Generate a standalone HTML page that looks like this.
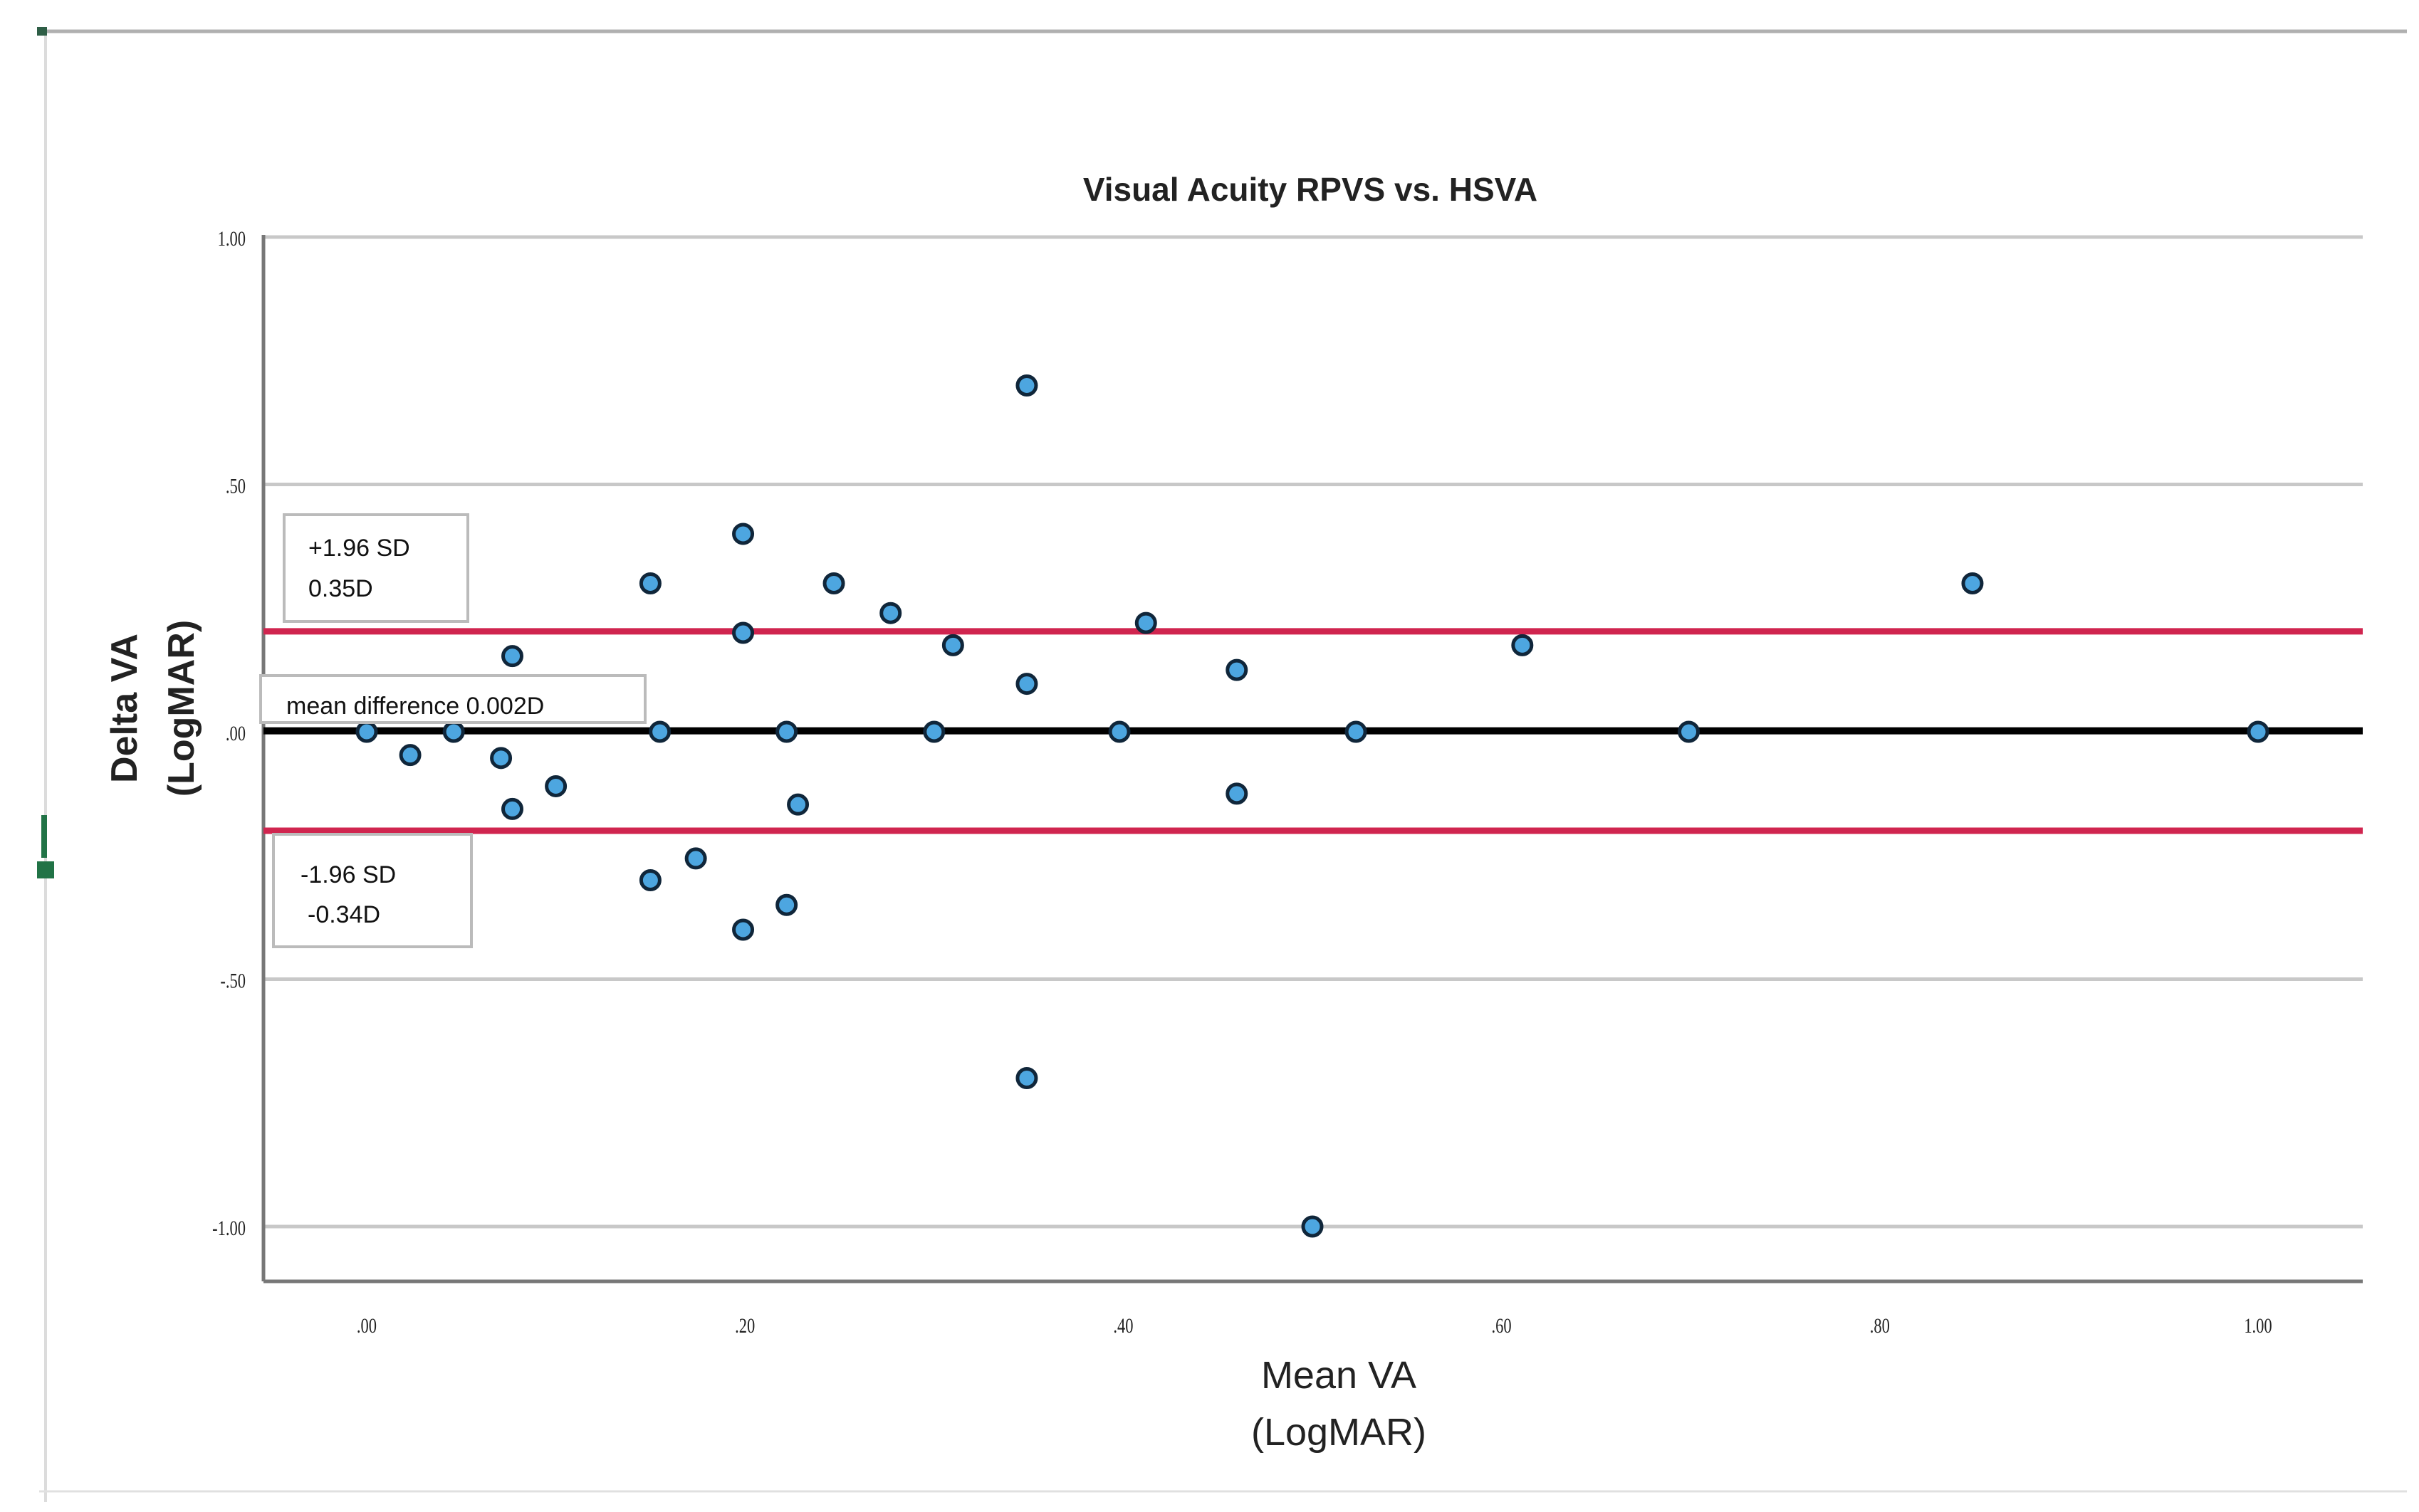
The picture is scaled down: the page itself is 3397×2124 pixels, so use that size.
<!DOCTYPE html>
<html><head><meta charset="utf-8"><style>
html,body{margin:0;padding:0;background:#fff;}
svg{display:block;}
</style></head><body>
<svg id="chart" width="3397" height="2124" viewBox="0 0 3397 2124" xmlns="http://www.w3.org/2000/svg">
<g>
<line x1="55" y1="44" x2="3380" y2="44" stroke="#b0b0b0" stroke-width="5"/>
<line x1="64" y1="44" x2="64" y2="2110" stroke="#dcdcdc" stroke-width="4"/>
<line x1="55" y1="2095" x2="3380" y2="2095" stroke="#e0e0e0" stroke-width="3"/>
<rect x="52" y="38" width="14" height="12" fill="#2e5e46"/>
<rect x="58" y="1145" width="8" height="60" fill="#217346"/>
<rect x="52" y="1210" width="24" height="24" fill="#217346"/>
</g>
<g id="plot"></g>
<text x="1840" y="282" text-anchor="middle" font-family="Liberation Sans, sans-serif" font-weight="bold" font-size="46" fill="#222">Visual Acuity RPVS vs. HSVA</text>
<text x="1880" y="1950" text-anchor="middle" font-family="Liberation Sans, sans-serif" font-size="54" fill="#222">Mean VA</text>
<text x="1880" y="2030" text-anchor="middle" font-family="Liberation Sans, sans-serif" font-size="54" fill="#222">(LogMAR)</text>
<text transform="translate(192 995) rotate(-90)" text-anchor="middle" font-family="Liberation Sans, sans-serif" font-weight="bold" font-size="52" fill="#222">Delta VA</text>
<text transform="translate(272 995) rotate(-90)" text-anchor="middle" font-family="Liberation Sans, sans-serif" font-weight="bold" font-size="52" fill="#222">(LogMAR)</text>
</svg>
<script>
const xTicks=[0,0.2,0.4,0.6,0.8,1.0];
const xTickLabels=[".00",".20",".40",".60",".80","1.00"];
const yTicks=[1.0,0.5,0,-0.5,-1.0];
const yTickLabels=["1.00",".50",".00","-.50","-1.00"];
const meanVA=[0,0.023,0.046,0.071,0.077,0.077,0.1,0.15,0.15,0.155,0.174,0.199,0.199,0.199,0.222,0.222,0.228,0.247,0.277,0.30,0.31,0.349,0.349,0.349,0.398,0.412,0.46,0.46,0.5,0.523,0.611,0.699,0.849,1.0];
const deltaVA=[0,-0.047,0,-0.053,0.153,-0.156,-0.11,0.3,-0.3,0,-0.256,0.4,0.2,-0.4,0,-0.35,-0.147,0.3,0.24,0,0.175,0.7,0.097,-0.7,0,0.22,0.125,-0.125,-1.0,0,0.175,0,0.3,0];
const meanDiff=0.002;
const upperLoA=0.203;
const lowerLoA=-0.2;

const NS="http://www.w3.org/2000/svg";
const X0=515,X1=3171,Y0=1028,YU=695;
const L=370,R=3318,B=1800;
function sx(v){return X0+(X1-X0)*v;}
function sy(v){return Y0-YU*v;}
const g=document.getElementById('plot');
function mk(tag,attrs,parent){const e=document.createElementNS(NS,tag);for(const k in attrs)e.setAttribute(k,attrs[k]);(parent||g).appendChild(e);return e;}

yTicks.forEach((t,i)=>{
 const l=mk('line',{x1:L,x2:R,y1:sy(t),y2:sy(t),stroke:'#c8c8c8','stroke-width':5});
 
 
 const tx=mk('text',{x:345,y:sy(t)+12,'text-anchor':'end','font-family':'Liberation Serif, serif','font-size':30,fill:'#222',transform:`translate(345 0) scale(0.75 1) translate(-345 0)`});
 tx.textContent=yTickLabels[i];
 
 
});
xTicks.forEach((t,i)=>{
 const tx=mk('text',{x:sx(t),y:1872,'text-anchor':'middle','font-family':'Liberation Serif, serif','font-size':30,fill:'#222',transform:`translate(${sx(t)} 0) scale(0.75 1) translate(${-sx(t)} 0)`});
 tx.textContent=xTickLabels[i];
 
 
});
const ax1=mk('line',{x1:L,x2:L,y1:330,y2:B,stroke:'#777','stroke-width':5});


const ax2=mk('line',{x1:L,x2:R,y1:B,y2:B,stroke:'#777','stroke-width':5});



const ml=mk('line',{x1:L,x2:R,y1:sy(meanDiff),y2:sy(meanDiff),stroke:'#000','stroke-width':10});


[upperLoA,lowerLoA].forEach((v,i)=>{
 const l=mk('line',{x1:L,x2:R,y1:sy(v),y2:sy(v),stroke:'#d0254f','stroke-width':9});
 
 
});

meanVA.forEach((m,i)=>{
 const c=mk('circle',{cx:sx(m),cy:sy(deltaVA[i]),r:13,fill:'#4da6e0',stroke:'#10263a','stroke-width':5});
 
 
});

function box(name,x,y,w,h,lines){
 const gg=mk('g',{});
 
 
 mk('rect',{x:x,y:y,width:w,height:h,fill:'#fff',stroke:'#bbb','stroke-width':4},gg);
 lines.forEach(([tx,lx,ly])=>{const t=mk('text',{x:lx,y:ly,'font-family':'Liberation Sans, sans-serif','font-size':34,fill:'#111'},gg);t.textContent=tx;});
}
box('upper-limit-label',399,723,258,150,[['+1.96 SD',433,781],['0.35D',433,838]]);
box('mean-difference-label',366,949,540,66,[['mean difference 0.002D',402,1003]]);
box('lower-limit-label',384,1172,278,158,[['-1.96 SD',422,1240],['-0.34D',432,1296]]);
</script>
</body></html>
